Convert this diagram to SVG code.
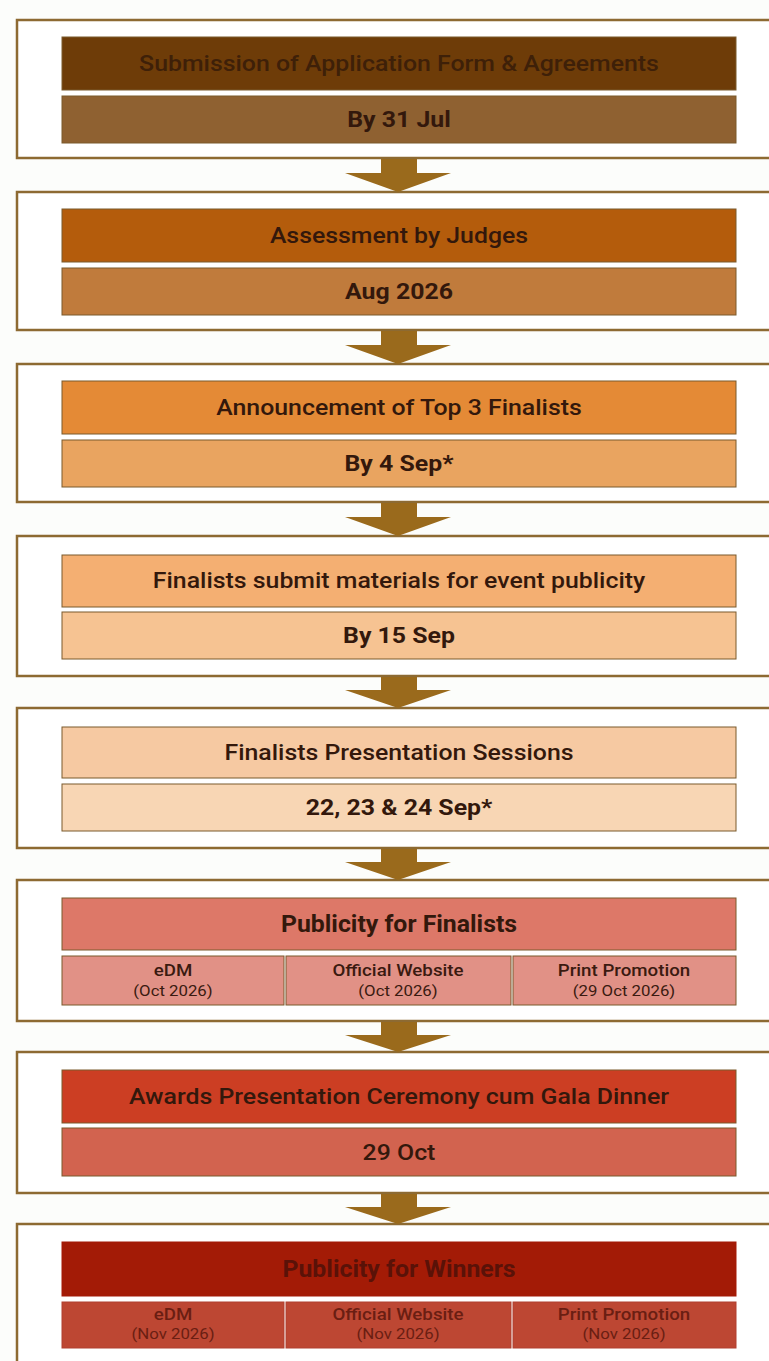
<svg xmlns="http://www.w3.org/2000/svg" width="769" height="1361" viewBox="0 0 769 1361">
<style>
.bg{fill:#fcfdfb}
.outer{fill:#ffffff;stroke:#8d6a32;stroke-width:2.5}
.inner{stroke:#7a5a2c;stroke-width:1}
.h{font-family:Roboto,"Liberation Sans",sans-serif;font-size:22px;font-weight:500;text-anchor:middle;fill:#33180c}
.s{font-family:Roboto,"Liberation Sans",sans-serif;font-size:22px;font-weight:700;text-anchor:middle;fill:#33180c}
.ph{font-family:Roboto,"Liberation Sans",sans-serif;font-size:23px;font-weight:700;text-anchor:middle;fill:#33180c}
.c1{font-family:Roboto,"Liberation Sans",sans-serif;font-size:16px;font-weight:500;text-anchor:middle;fill:#3a1a10}
.c2{font-family:Roboto,"Liberation Sans",sans-serif;font-size:15px;font-weight:400;text-anchor:middle;fill:#3a1a10}
.arrow{fill:#9a6a1c}
</style>
<rect class="bg" x="0" y="0" width="769" height="1361"/>

<g id="step1">
<rect class="outer" x="17" y="20" width="800" height="138"/>
<rect class="inner" x="62" y="37" width="674" height="53" fill="#6e3c08"/>
<rect class="inner" x="62" y="96" width="674" height="47" fill="#8f6131"/>
<g transform="translate(399 0) scale(1.13 1)">
<text class="h" x="0" y="71.5" style="fill:#3e2008">Submission of Application Form &amp; Agreements</text>
<text class="s" x="0" y="127.5">By 31 Jul</text>
</g>
</g>

<g id="step2">
<rect class="outer" x="17" y="192" width="800" height="138"/>
<rect class="inner" x="62" y="209" width="674" height="53" fill="#b45c0c"/>
<rect class="inner" x="62" y="268" width="674" height="47" fill="#c07b3c"/>
<g transform="translate(399 0) scale(1.13 1)">
<text class="h" x="0" y="243.5">Assessment by Judges</text>
<text class="s" x="0" y="299.5">Aug 2026</text>
</g>
</g>

<g id="step3">
<rect class="outer" x="17" y="364" width="800" height="138"/>
<rect class="inner" x="62" y="381" width="674" height="53" fill="#e48a36"/>
<rect class="inner" x="62" y="440" width="674" height="47" fill="#e9a460"/>
<g transform="translate(399 0) scale(1.13 1)">
<text class="h" x="0" y="415.5">Announcement of Top 3 Finalists</text>
<text class="s" x="0" y="471.5">By 4 Sep*</text>
</g>
</g>

<g id="step4">
<rect class="outer" x="17" y="536" width="800" height="140"/>
<rect class="inner" x="62" y="555" width="674" height="52" fill="#f4af72"/>
<rect class="inner" x="62" y="612" width="674" height="47" fill="#f6c392"/>
<g transform="translate(399 0) scale(1.13 1)">
<text class="h" x="0" y="588.5">Finalists submit materials for event publicity</text>
<text class="s" x="0" y="643.5">By 15 Sep</text>
</g>
</g>

<g id="step5">
<rect class="outer" x="17" y="708" width="800" height="140"/>
<rect class="inner" x="62" y="727" width="674" height="51" fill="#f6c9a2"/>
<rect class="inner" x="62" y="784" width="674" height="47" fill="#f8d6b4"/>
<g transform="translate(399 0) scale(1.13 1)">
<text class="h" x="0" y="760.5">Finalists Presentation Sessions</text>
<text class="s" x="0" y="815.5">22, 23 &amp; 24 Sep*</text>
</g>
</g>

<g id="step6">
<rect class="outer" x="17" y="880" width="800" height="141"/>
<rect class="inner" x="62" y="898" width="674" height="52" fill="#dd7868"/>
<rect class="inner" x="62" y="956" width="222" height="49" fill="#e19186"/>
<rect class="inner" x="286" y="956" width="225" height="49" fill="#e19186"/>
<rect class="inner" x="513" y="956" width="223" height="49" fill="#e19186"/>
<text class="ph" x="0" y="932.5" transform="translate(399 0) scale(1.08 1)">Publicity for Finalists</text>
<g transform="translate(173 0) scale(1.17 1)"><text class="c1" x="0" y="976">eDM</text></g>
<g transform="translate(173 0) scale(1.12 1)"><text class="c2" x="0" y="996">(Oct 2026)</text></g>
<g transform="translate(398 0) scale(1.17 1)"><text class="c1" x="0" y="976">Official Website</text></g>
<g transform="translate(398 0) scale(1.12 1)"><text class="c2" x="0" y="996">(Oct 2026)</text></g>
<g transform="translate(624 0) scale(1.17 1)"><text class="c1" x="0" y="976">Print Promotion</text></g>
<g transform="translate(624 0) scale(1.12 1)"><text class="c2" x="0" y="996">(29 Oct 2026)</text></g>
</g>

<g id="step7">
<rect class="outer" x="17" y="1052" width="800" height="141"/>
<rect class="inner" x="62" y="1070" width="674" height="53" fill="#cc3e23"/>
<rect class="inner" x="62" y="1128" width="674" height="48" fill="#d2634f"/>
<g transform="translate(399 0) scale(1.13 1)">
<text class="h" x="0" y="1104.5">Awards Presentation Ceremony cum Gala Dinner</text>
<text class="s" x="0" y="1160.5" style="font-weight:500">29 Oct</text>
</g>
</g>

<g id="step8">
<rect class="outer" x="17" y="1224" width="800" height="160"/>
<rect class="inner" x="62" y="1242" width="674" height="54" fill="#a31b06" style="stroke:#a31b06"/>
<rect class="inner" x="62" y="1302" width="222" height="46" fill="#bd4733" style="stroke:#b04030"/>
<rect class="inner" x="286" y="1302" width="225" height="46" fill="#bd4733" style="stroke:#b04030"/>
<rect class="inner" x="513" y="1302" width="223" height="46" fill="#bd4733" style="stroke:#b04030"/>
<text class="ph" x="0" y="1277.5" transform="translate(399 0) scale(1.08 1)" style="fill:#5a1208">Publicity for Winners</text>
<g transform="translate(173 0) scale(1.17 1)"><text class="c1" x="0" y="1320" style="fill:#6a1e12">eDM</text></g>
<g transform="translate(173 0) scale(1.12 1)"><text class="c2" x="0" y="1339" style="fill:#6a1e12">(Nov 2026)</text></g>
<g transform="translate(398 0) scale(1.17 1)"><text class="c1" x="0" y="1320" style="fill:#6a1e12">Official Website</text></g>
<g transform="translate(398 0) scale(1.12 1)"><text class="c2" x="0" y="1339" style="fill:#6a1e12">(Nov 2026)</text></g>
<g transform="translate(624 0) scale(1.17 1)"><text class="c1" x="0" y="1320" style="fill:#6a1e12">Print Promotion</text></g>
<g transform="translate(624 0) scale(1.12 1)"><text class="c2" x="0" y="1339" style="fill:#6a1e12">(Nov 2026)</text></g>
</g>

<g id="connectors">
<polygon class="arrow" points="381,159 417,159 417,173 451,173 398,192 345,173 381,173"/>
<polygon class="arrow" points="381,331 417,331 417,345 451,345 398,364 345,345 381,345"/>
<polygon class="arrow" points="381,503 417,503 417,517 451,517 398,536 345,517 381,517"/>
<polygon class="arrow" points="381,677 417,677 417,690 451,690 398,708 345,690 381,690"/>
<polygon class="arrow" points="381,849 417,849 417,862 451,862 398,880 345,862 381,862"/>
<polygon class="arrow" points="381,1022 417,1022 417,1035 451,1035 398,1052 345,1035 381,1035"/>
<polygon class="arrow" points="381,1194 417,1194 417,1207 451,1207 398,1224 345,1207 381,1207"/>
</g>
</svg>
